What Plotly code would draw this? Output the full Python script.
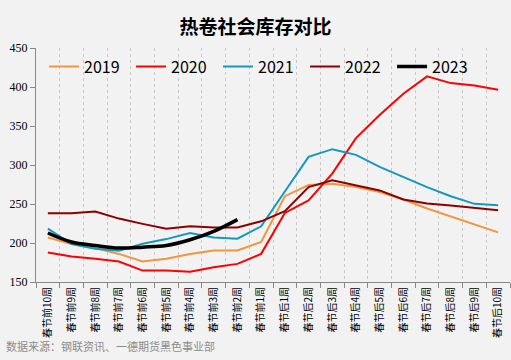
import plotly.graph_objects as go

categories = ["春节前10周", "春节前9周", "春节前8周", "春节前7周", "春节前6周", "春节前5周",
              "春节前4周", "春节前3周", "春节前2周", "春节前1周", "春节后1周", "春节后2周",
              "春节后3周", "春节后4周", "春节后5周", "春节后6周", "春节后7周", "春节后8周",
              "春节后9周", "春节后10周"]

y2019 = [207, 198.6, 193.5, 186, 176.2, 179.7, 186, 190.4, 190.4, 201.2,
         260, 274.3, 276, 271.7, 265.3, 255.8, 244.2, 234.3, 224.4, 213.6]
y2020 = [187.8, 182.6, 179.7, 176.2, 164.6, 164.6, 163.3, 169, 173.2, 186.1,
         238.6, 254.5, 289, 334.5, 364.2, 391.3, 413.6, 405, 402, 396.4]
y2021 = [218.4, 198.6, 192.6, 190, 199, 205, 212.8, 207, 205.5, 221.4,
         266, 310.4, 320.3, 313, 297.5, 284.6, 271.7, 260, 250.2, 248.5]
y2022 = [238, 238, 240.3, 231.3, 224.5, 218.4, 221.4, 220, 220, 227.8,
         240.7, 271.7, 280.3, 273.9, 267.4, 255.8, 250.6, 248, 245, 242]
y2023 = [212.8, 201.2, 196.8, 193.5, 194.7, 196.8, 204.2, 215, 230]

series = [
    ("2019", y2019, "#F0963F", 2, "linear"),
    ("2020", y2020, "#FF0000", 2, "linear"),
    ("2021", y2021, "#1499BE", 2, "linear"),
    ("2022", y2022, "#8B0000", 2, "linear"),
    ("2023", y2023, "#000000", 3.5, "spline"),
]

fig = go.Figure()
for name, vals, color, w, shape in series:
    fig.add_trace(go.Scatter(
        x=categories[:len(vals)], y=vals, name=name, mode="lines",
        line=dict(color=color, width=w, shape=shape),
    ))

fig.update_layout(
    width=511, height=360,
    margin=dict(l=36, r=1, t=48, b=78, autoexpand=False),
    paper_bgcolor="#F2F2F2", plot_bgcolor="#F2F2F2",
    font=dict(family="Noto Sans CJK SC, sans-serif", color="#000000"),
    title=dict(text="<b>热卷社会库存对比</b>", x=0.5, xanchor="center",
               yref="container", y=0.925, yanchor="middle",
               font=dict(size=19, family="Noto Sans CJK SC", color="#000000")),
    legend=dict(orientation="h", x=0.017, xanchor="left", y=0.92, yanchor="middle",
                bgcolor="rgba(0,0,0,0)", font=dict(size=16, family="Noto Sans CJK SC"),
                entrywidth=42, itemwidth=30, traceorder="normal"),
    showlegend=True,
    annotations=[dict(text="数据来源：钢联资讯、一德期货黑色事业部", xref="paper", yref="paper",
                      x=-0.068, y=-0.274, xanchor="left", yanchor="middle", showarrow=False,
                      font=dict(size=11, color="#8C8C8C", family="Noto Sans CJK SC"))],
)

fig.update_xaxes(
    type="category", categoryorder="array", categoryarray=categories,
    range=[-0.5, 19.5], tickson="boundaries", automargin=False,
    showgrid=True, gridcolor="#C8C8C8", griddash="dot", gridwidth=1,
    showline=True, linecolor="#888888", linewidth=1,
    ticks="outside", ticklen=5, tickcolor="#888888",
    tickangle=-90, tickfont=dict(size=10, family="Noto Sans CJK SC", color="#000000"),
)
fig.update_yaxes(
    range=[150, 450], tickvals=[150, 200, 250, 300, 350, 400, 450],
    showgrid=False, zeroline=False, automargin=False,
    showline=True, linecolor="#888888", linewidth=1,
    ticks="outside", ticklen=5, tickcolor="#888888",
    tickfont=dict(size=12, family="Liberation Serif", color="#000000"),
)

fig.write_html(
    "out.html",
    config={"displayModeBar": False},
    post_script="document.body.style.margin='0';document.body.style.background='#F2F2F2';",
)
